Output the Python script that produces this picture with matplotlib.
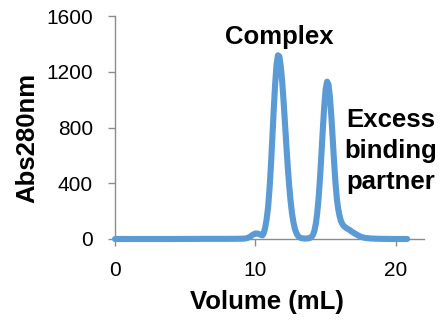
import matplotlib
matplotlib.use("Agg")
import matplotlib.pyplot as plt

# Elution volume (mL) and absorbance at 280 nm
volume = [0.0, 2.0, 4.0, 6.0, 8.0, 9.0, 9.2, 9.4, 9.6, 9.8, 10.0, 10.2, 10.4, 10.5,
          10.6, 10.7, 10.8, 10.9, 11.0, 11.1, 11.2, 11.3, 11.4, 11.5, 11.6, 11.7,
          11.8, 11.9, 12.0, 12.1, 12.2, 12.3, 12.4, 12.5, 12.6, 12.7, 12.8, 12.9,
          13.0, 13.1, 13.2, 13.3, 13.5, 13.7, 13.9, 14.0, 14.1, 14.2, 14.3, 14.4,
          14.5, 14.6, 14.7, 14.8, 14.9, 15.0, 15.1, 15.2, 15.3, 15.4, 15.5, 15.6,
          15.7, 15.8, 15.9, 16.0, 16.1, 16.2, 16.3, 16.4, 16.5, 16.7, 16.9, 17.1,
          17.3, 17.5, 17.8, 18.2, 18.6, 19.0, 20.0, 20.8]
abs280 = [0, 0, 0, 1, 1, 2, 3, 6, 15, 30, 40, 38, 29, 26,
          45, 85, 145, 229, 358, 524, 719, 923, 1109, 1249, 1318, 1310,
          1243, 1134, 993, 833, 671, 518, 384, 273, 186, 122, 76, 46,
          26, 15, 9, 6, 3, 4, 8, 15, 31, 60, 110, 188,
          298, 443, 613, 793, 956, 1075, 1129, 1108, 1021, 885, 720, 550,
          400, 285, 210, 160, 125, 105, 92, 84, 76, 65, 50, 38,
          26, 16, 8, 4, 2, 1, 0, 0]

x_ticks = [0, 10, 20]
y_ticks = [0, 400, 800, 1200, 1600]

plt.rcParams['font.family'] = ['Liberation Sans', 'DejaVu Sans']

fig = plt.figure(figsize=(4.4, 3.21), dpi=100)
ax = fig.add_axes([115/440, 1 - 239/321, (424 - 115)/440, (239 - 16)/321])

ax.plot(volume, abs280, color='#5B9BD5', lw=4.4, solid_capstyle='round',
        solid_joinstyle='round', clip_on=False, zorder=5)

ax.set_xlim(0, 22)
ax.set_ylim(0, 1600)
ax.set_xticks(x_ticks)
ax.set_yticks(y_ticks)
ax.tick_params(axis='both', direction='out', length=5, width=1, color='#8c8c8c',
               labelsize=15, labelcolor='black')
ax.tick_params(axis='y', pad=11)
ax.tick_params(axis='x', pad=11)

for s in ['top', 'right']:
    ax.spines[s].set_visible(False)
for s in ['left', 'bottom']:
    ax.spines[s].set_color('#8c8c8c')
    ax.spines[s].set_linewidth(1)

ax.set_xlabel('Volume (mL)', fontsize=18.5, fontweight='bold')
ax.set_ylabel('Abs280nm', fontsize=18.5, fontweight='bold')
ax.xaxis.set_label_coords(0.492, -0.227)
ax.yaxis.set_label_coords(-0.245, 0.455)

fig.text(279/440, 1 - 37/321, 'Complex', fontsize=18.5, fontweight='bold',
         ha='center', va='center')
fig.text(391/440, 1 - 151/321, 'Excess\nbinding\npartner', fontsize=18.5,
         fontweight='bold', ha='center', va='center', linespacing=1.36)

fig.savefig('out.png', dpi=100)
